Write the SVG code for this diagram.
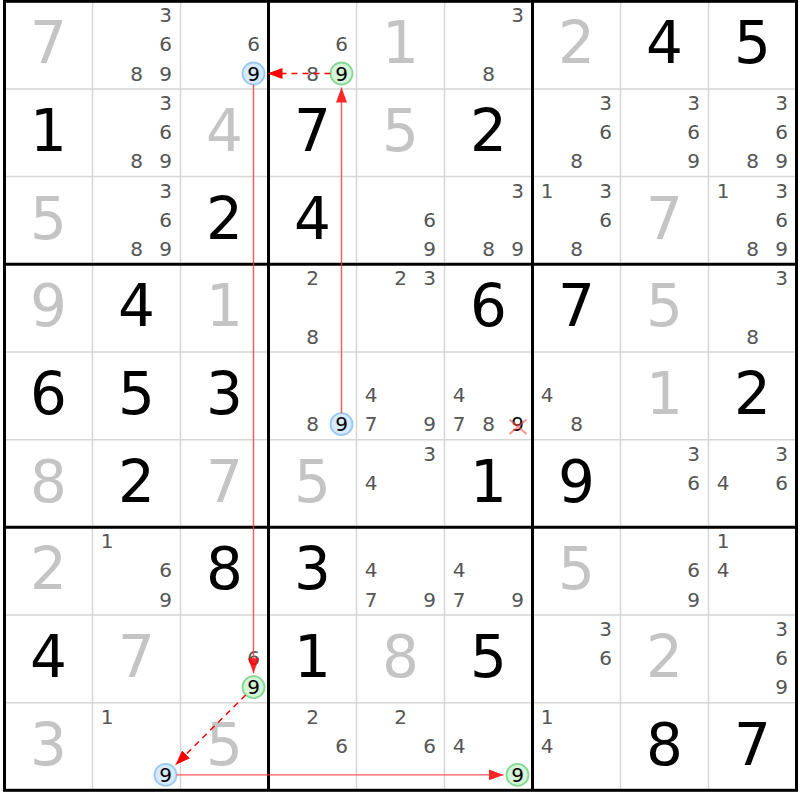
<svg xmlns="http://www.w3.org/2000/svg" width="800" height="800" viewBox="0 0 800 800">
<defs>
<style>
text{font-family:"DejaVu Sans","Liberation Sans",sans-serif;text-anchor:middle}
.g{font-size:58px;fill:#000}
.s{font-size:58px;fill:#c4c4c4}
.c{font-size:20px;fill:#555}
.h{font-size:20px;fill:#000}
.thin{stroke:#d6d6d6;stroke-width:1.5;fill:none}
.thick{stroke:#000;stroke-width:3;fill:none}
.cb{fill:#d6eaff;stroke:#9cc8f2;stroke-width:1.8}
.cg{fill:#d4f5d8;stroke:#86d894;stroke-width:1.8}
.solid{stroke:#ff3b3b;stroke-width:1.4;fill:none;opacity:0.85}
.dash{stroke:#ff0000;stroke-width:1.5;fill:none;stroke-dasharray:6 5}
.x{stroke:#ff5050;stroke-width:2.2;opacity:0.6}
</style>
<marker id="ah" viewBox="0 0 15 11" refX="15" refY="5.5" markerWidth="15" markerHeight="11" markerUnits="userSpaceOnUse" orient="auto">
<path d="M0,0 L15,5.5 L0,11 z" fill="#ff0000"/>
</marker>
</defs>
<rect width="800" height="800" fill="#fff"/>
<g id="grid">
<path class="thin" d="M92.5,1.3V790.3M180.5,1.3V790.3M356.5,1.3V790.3M444.5,1.3V790.3M620.5,1.3V790.3M708.5,1.3V790.3M4.5,89H796.5M4.5,176.6H796.5M4.5,352H796.5M4.5,439.7H796.5M4.5,615H796.5M4.5,702.7H796.5"/>
<path class="thick" d="M268.5,1.3V790.3M532.5,1.3V790.3M4.5,264.3H796.5M4.5,527.3H796.5"/>
<rect class="thick" x="4.5" y="1.3" width="792" height="789"/>
</g>
<g id="cells">
<!-- row 0 -->
<g id="r0c0" transform="translate(4.5,1.3)"><text class="s" x="44" y="62">7</text></g>
<g id="r0c1" transform="translate(92.5,1.3)"><text class="c" x="73" y="21">3</text><text class="c" x="73" y="50.2">6</text><text class="c" x="44" y="79.4">8</text><text class="c" x="73" y="79.4">9</text></g>
<g id="r0c2" transform="translate(180.5,1.3)"><text class="c" x="73" y="50.2">6</text><circle class="cb" cx="73" cy="72.2" r="11"/><text class="h" x="73" y="79.4">9</text></g>
<g id="r0c3" transform="translate(268.5,1.3)"><text class="c" x="73" y="50.2">6</text><text class="c" x="44" y="79.4">8</text><circle class="cg" cx="73" cy="72.2" r="11"/><text class="h" x="73" y="79.4">9</text></g>
<g id="r0c4" transform="translate(356.5,1.3)"><text class="s" x="44" y="62">1</text></g>
<g id="r0c5" transform="translate(444.5,1.3)"><text class="c" x="73" y="21">3</text><text class="c" x="44" y="79.4">8</text></g>
<g id="r0c6" transform="translate(532.5,1.3)"><text class="s" x="44" y="62">2</text></g>
<g id="r0c7" transform="translate(620.5,1.3)"><text class="g" x="44" y="62">4</text></g>
<g id="r0c8" transform="translate(708.5,1.3)"><text class="g" x="44" y="62">5</text></g>
<!-- row 1 -->
<g id="r1c0" transform="translate(4.5,89)"><text class="g" x="44" y="62">1</text></g>
<g id="r1c1" transform="translate(92.5,89)"><text class="c" x="73" y="21">3</text><text class="c" x="73" y="50.2">6</text><text class="c" x="44" y="79.4">8</text><text class="c" x="73" y="79.4">9</text></g>
<g id="r1c2" transform="translate(180.5,89)"><text class="s" x="44" y="62">4</text></g>
<g id="r1c3" transform="translate(268.5,89)"><text class="g" x="44" y="62">7</text></g>
<g id="r1c4" transform="translate(356.5,89)"><text class="s" x="44" y="62">5</text></g>
<g id="r1c5" transform="translate(444.5,89)"><text class="g" x="44" y="62">2</text></g>
<g id="r1c6" transform="translate(532.5,89)"><text class="c" x="73" y="21">3</text><text class="c" x="73" y="50.2">6</text><text class="c" x="44" y="79.4">8</text></g>
<g id="r1c7" transform="translate(620.5,89)"><text class="c" x="73" y="21">3</text><text class="c" x="73" y="50.2">6</text><text class="c" x="73" y="79.4">9</text></g>
<g id="r1c8" transform="translate(708.5,89)"><text class="c" x="73" y="21">3</text><text class="c" x="73" y="50.2">6</text><text class="c" x="44" y="79.4">8</text><text class="c" x="73" y="79.4">9</text></g>
<!-- row 2 -->
<g id="r2c0" transform="translate(4.5,176.6)"><text class="s" x="44" y="62">5</text></g>
<g id="r2c1" transform="translate(92.5,176.6)"><text class="c" x="73" y="21">3</text><text class="c" x="73" y="50.2">6</text><text class="c" x="44" y="79.4">8</text><text class="c" x="73" y="79.4">9</text></g>
<g id="r2c2" transform="translate(180.5,176.6)"><text class="g" x="44" y="62">2</text></g>
<g id="r2c3" transform="translate(268.5,176.6)"><text class="g" x="44" y="62">4</text></g>
<g id="r2c4" transform="translate(356.5,176.6)"><text class="c" x="73" y="50.2">6</text><text class="c" x="73" y="79.4">9</text></g>
<g id="r2c5" transform="translate(444.5,176.6)"><text class="c" x="73" y="21">3</text><text class="c" x="44" y="79.4">8</text><text class="c" x="73" y="79.4">9</text></g>
<g id="r2c6" transform="translate(532.5,176.6)"><text class="c" x="14.7" y="21">1</text><text class="c" x="73" y="21">3</text><text class="c" x="73" y="50.2">6</text><text class="c" x="44" y="79.4">8</text></g>
<g id="r2c7" transform="translate(620.5,176.6)"><text class="s" x="44" y="62">7</text></g>
<g id="r2c8" transform="translate(708.5,176.6)"><text class="c" x="14.7" y="21">1</text><text class="c" x="73" y="21">3</text><text class="c" x="73" y="50.2">6</text><text class="c" x="44" y="79.4">8</text><text class="c" x="73" y="79.4">9</text></g>
<!-- row 3 -->
<g id="r3c0" transform="translate(4.5,264.3)"><text class="s" x="44" y="62">9</text></g>
<g id="r3c1" transform="translate(92.5,264.3)"><text class="g" x="44" y="62">4</text></g>
<g id="r3c2" transform="translate(180.5,264.3)"><text class="s" x="44" y="62">1</text></g>
<g id="r3c3" transform="translate(268.5,264.3)"><text class="c" x="44" y="21">2</text><text class="c" x="44" y="79.4">8</text></g>
<g id="r3c4" transform="translate(356.5,264.3)"><text class="c" x="44" y="21">2</text><text class="c" x="73" y="21">3</text></g>
<g id="r3c5" transform="translate(444.5,264.3)"><text class="g" x="44" y="62">6</text></g>
<g id="r3c6" transform="translate(532.5,264.3)"><text class="g" x="44" y="62">7</text></g>
<g id="r3c7" transform="translate(620.5,264.3)"><text class="s" x="44" y="62">5</text></g>
<g id="r3c8" transform="translate(708.5,264.3)"><text class="c" x="73" y="21">3</text><text class="c" x="44" y="79.4">8</text></g>
<!-- row 4 -->
<g id="r4c0" transform="translate(4.5,352)"><text class="g" x="44" y="62">6</text></g>
<g id="r4c1" transform="translate(92.5,352)"><text class="g" x="44" y="62">5</text></g>
<g id="r4c2" transform="translate(180.5,352)"><text class="g" x="44" y="62">3</text></g>
<g id="r4c3" transform="translate(268.5,352)"><text class="c" x="44" y="79.4">8</text><circle class="cb" cx="73" cy="72.2" r="11"/><text class="h" x="73" y="79.4">9</text></g>
<g id="r4c4" transform="translate(356.5,352)"><text class="c" x="14.7" y="50.2">4</text><text class="c" x="14.7" y="79.4">7</text><text class="c" x="73" y="79.4">9</text></g>
<g id="r4c5" transform="translate(444.5,352)"><text class="c" x="14.7" y="50.2">4</text><text class="c" x="14.7" y="79.4">7</text><text class="c" x="44" y="79.4">8</text><text class="h" x="73" y="79.4">9</text><path class="x" d="M65,67.5L82,82M82,67.5L65,82"/></g>
<g id="r4c6" transform="translate(532.5,352)"><text class="c" x="14.7" y="50.2">4</text><text class="c" x="44" y="79.4">8</text></g>
<g id="r4c7" transform="translate(620.5,352)"><text class="s" x="44" y="62">1</text></g>
<g id="r4c8" transform="translate(708.5,352)"><text class="g" x="44" y="62">2</text></g>
<!-- row 5 -->
<g id="r5c0" transform="translate(4.5,439.7)"><text class="s" x="44" y="62">8</text></g>
<g id="r5c1" transform="translate(92.5,439.7)"><text class="g" x="44" y="62">2</text></g>
<g id="r5c2" transform="translate(180.5,439.7)"><text class="s" x="44" y="62">7</text></g>
<g id="r5c3" transform="translate(268.5,439.7)"><text class="s" x="44" y="62">5</text></g>
<g id="r5c4" transform="translate(356.5,439.7)"><text class="c" x="73" y="21">3</text><text class="c" x="14.7" y="50.2">4</text></g>
<g id="r5c5" transform="translate(444.5,439.7)"><text class="g" x="44" y="62">1</text></g>
<g id="r5c6" transform="translate(532.5,439.7)"><text class="g" x="44" y="62">9</text></g>
<g id="r5c7" transform="translate(620.5,439.7)"><text class="c" x="73" y="21">3</text><text class="c" x="73" y="50.2">6</text></g>
<g id="r5c8" transform="translate(708.5,439.7)"><text class="c" x="73" y="21">3</text><text class="c" x="14.7" y="50.2">4</text><text class="c" x="73" y="50.2">6</text></g>
<!-- row 6 -->
<g id="r6c0" transform="translate(4.5,527.3)"><text class="s" x="44" y="62">2</text></g>
<g id="r6c1" transform="translate(92.5,527.3)"><text class="c" x="14.7" y="21">1</text><text class="c" x="73" y="50.2">6</text><text class="c" x="73" y="79.4">9</text></g>
<g id="r6c2" transform="translate(180.5,527.3)"><text class="g" x="44" y="62">8</text></g>
<g id="r6c3" transform="translate(268.5,527.3)"><text class="g" x="44" y="62">3</text></g>
<g id="r6c4" transform="translate(356.5,527.3)"><text class="c" x="14.7" y="50.2">4</text><text class="c" x="14.7" y="79.4">7</text><text class="c" x="73" y="79.4">9</text></g>
<g id="r6c5" transform="translate(444.5,527.3)"><text class="c" x="14.7" y="50.2">4</text><text class="c" x="14.7" y="79.4">7</text><text class="c" x="73" y="79.4">9</text></g>
<g id="r6c6" transform="translate(532.5,527.3)"><text class="s" x="44" y="62">5</text></g>
<g id="r6c7" transform="translate(620.5,527.3)"><text class="c" x="73" y="50.2">6</text><text class="c" x="73" y="79.4">9</text></g>
<g id="r6c8" transform="translate(708.5,527.3)"><text class="c" x="14.7" y="21">1</text><text class="c" x="14.7" y="50.2">4</text></g>
<!-- row 7 -->
<g id="r7c0" transform="translate(4.5,615)"><text class="g" x="44" y="62">4</text></g>
<g id="r7c1" transform="translate(92.5,615)"><text class="s" x="44" y="62">7</text></g>
<g id="r7c2" transform="translate(180.5,615)"><text class="c" x="73" y="50.2">6</text><circle class="cg" cx="73" cy="72.2" r="11"/><text class="h" x="73" y="79.4">9</text></g>
<g id="r7c3" transform="translate(268.5,615)"><text class="g" x="44" y="62">1</text></g>
<g id="r7c4" transform="translate(356.5,615)"><text class="s" x="44" y="62">8</text></g>
<g id="r7c5" transform="translate(444.5,615)"><text class="g" x="44" y="62">5</text></g>
<g id="r7c6" transform="translate(532.5,615)"><text class="c" x="73" y="21">3</text><text class="c" x="73" y="50.2">6</text></g>
<g id="r7c7" transform="translate(620.5,615)"><text class="s" x="44" y="62">2</text></g>
<g id="r7c8" transform="translate(708.5,615)"><text class="c" x="73" y="21">3</text><text class="c" x="73" y="50.2">6</text><text class="c" x="73" y="79.4">9</text></g>
<!-- row 8 -->
<g id="r8c0" transform="translate(4.5,702.7)"><text class="s" x="44" y="62">3</text></g>
<g id="r8c1" transform="translate(92.5,702.7)"><text class="c" x="14.7" y="21">1</text><circle class="cb" cx="73" cy="72.2" r="11"/><text class="h" x="73" y="79.4">9</text></g>
<g id="r8c2" transform="translate(180.5,702.7)"><text class="s" x="44" y="62">5</text></g>
<g id="r8c3" transform="translate(268.5,702.7)"><text class="c" x="44" y="21">2</text><text class="c" x="73" y="50.2">6</text></g>
<g id="r8c4" transform="translate(356.5,702.7)"><text class="c" x="44" y="21">2</text><text class="c" x="73" y="50.2">6</text></g>
<g id="r8c5" transform="translate(444.5,702.7)"><text class="c" x="14.7" y="50.2">4</text><circle class="cg" cx="73" cy="72.2" r="11"/><text class="h" x="73" y="79.4">9</text></g>
<g id="r8c6" transform="translate(532.5,702.7)"><text class="c" x="14.7" y="21">1</text><text class="c" x="14.7" y="50.2">4</text></g>
<g id="r8c7" transform="translate(620.5,702.7)"><text class="g" x="44" y="62">8</text></g>
<g id="r8c8" transform="translate(708.5,702.7)"><text class="g" x="44" y="62">7</text></g>
</g>
<g id="connectors">
<path class="solid" d="M341.5,413.2V87.5" marker-end="url(#ah)"/>
<path class="dash" d="M330.5,73.5H267.5" marker-end="url(#ah)"/>
<path class="solid" d="M253.5,84.5V673.2" marker-end="url(#ah)"/>
<path class="dash" d="M245.7,695L175.4,765" marker-end="url(#ah)"/>
<path class="solid" d="M176.5,774.9H503.5" marker-end="url(#ah)"/>
</g>
</svg>
